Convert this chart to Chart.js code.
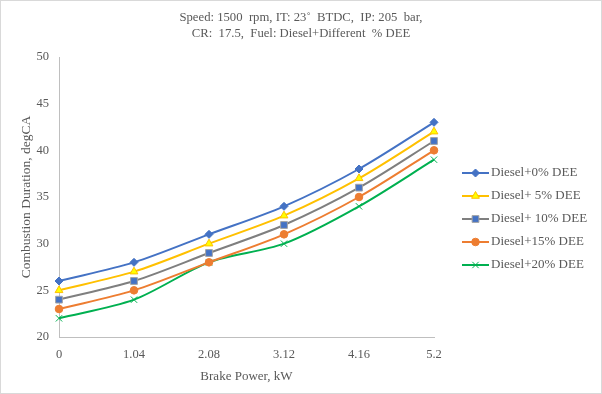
<!DOCTYPE html>
<html>
<head>
<meta charset="utf-8">
<script src="https://cdn.jsdelivr.net/npm/chart.js@4"></script>
<style>
  html, body { margin: 0; padding: 0; background: #fff; }
  #wrap { width: 600px; height: 392px; border: 1px solid #d9d9d9; }
</style>
</head>
<body>
<div id="wrap"><canvas id="chart" width="600" height="392"></canvas></div>
<script>
// data
const loads = ['0', '1.04', '2.08', '3.12', '4.16', '5.2'];
const dee0  = [26, 28, 31, 34, 38, 43];
const dee5  = [25, 27, 30, 33, 37, 42];
const dee10 = [24, 26, 29, 32, 36, 41];
const dee15 = [23, 25, 28, 31, 35, 40];
const dee20 = [22, 24, 28, 30, 34, 39];
const titleLines = ['Speed: 1500  rpm, IT: 23\u02da  BTDC,  IP: 205  bar,', 'CR:  17.5,  Fuel: Diesel+Different  % DEE'];

const FONT = '"Liberation Serif", "Times New Roman", serif';
const TXT = '#595959';

const series = [
  { label: 'Diesel+0% DEE',   data: dee0,  color: '#4472C4', pointStyle: 'rectRot', fill: '#4472C4', border: '#4472C4', r: 4 },
  { label: 'Diesel+ 5% DEE',  data: dee5,  color: '#FFC000', pointStyle: 'triangle', fill: '#FFFF00', border: '#FFC000', r: 4.5 },
  { label: 'Diesel+ 10% DEE', data: dee10, color: '#7F7F7F', pointStyle: 'rect', fill: '#4472C4', border: '#A5A5A5', r: 4.8 },
  { label: 'Diesel+15% DEE',  data: dee15, color: '#ED7D31', pointStyle: 'circle', fill: '#ED7D31', border: '#ED7D31', r: 3.8 },
  { label: 'Diesel+20% DEE',  data: dee20, color: '#00B050', pointStyle: 'crossRot', fill: '#00B050', border: '#00B050', r: 4.5 }
];

// title + legend drawn by hand so the positions match
const extras = {
  id: 'extras',
  afterDraw(c) {
    const ctx = c.ctx;
    ctx.save();
    ctx.fillStyle = TXT;
    ctx.font = '12.7px ' + FONT;
    ctx.textAlign = 'center';
    ctx.textBaseline = 'middle';
    ctx.fillText(titleLines[0], 300, 17);
    ctx.fillText(titleLines[1], 300, 33);

    ctx.textAlign = 'left';
    series.forEach((s, i) => {
      const y = 172 + i * 23;
      ctx.strokeStyle = s.color;
      ctx.lineWidth = 2;
      ctx.beginPath();
      ctx.moveTo(461, y);
      ctx.lineTo(488, y);
      ctx.stroke();
      ctx.fillStyle = s.fill;
      ctx.strokeStyle = s.border;
      ctx.lineWidth = 1;
      Chart.helpers.drawPoint(ctx, { pointStyle: s.pointStyle, radius: s.r, borderWidth: 1 }, 474.5, y);
      ctx.fillStyle = TXT;
      ctx.font = '13px ' + FONT;
      ctx.fillText(s.label, 490, y);
    });
    ctx.restore();
  }
};

new Chart(document.getElementById('chart'), {
  type: 'line',
  data: {
    labels: loads,
    datasets: series.map(s => ({
      label: s.label,
      data: s.data,
      borderColor: s.color,
      borderWidth: 2,
      backgroundColor: s.fill,
      pointBackgroundColor: s.fill,
      pointBorderColor: s.border,
      pointBorderWidth: 1,
      pointStyle: s.pointStyle,
      pointRadius: s.r,
      tension: 0.3,
      fill: false
    }))
  },
  options: {
    responsive: false,
    animation: false,
    layout: { padding: { top: 56, right: 167, left: 0, bottom: 0 } },
    plugins: {
      legend: { display: false },
      title: { display: false },
      tooltip: { enabled: false }
    },
    scales: {
      x: {
        offset: false,
        grid: { display: false, drawTicks: false },
        border: { color: '#bfbfbf', width: 1 },
        ticks: { color: TXT, font: { family: FONT, size: 12.5 }, padding: 10, maxRotation: 0 },
        title: { display: true, text: 'Brake Power, kW', color: TXT, font: { family: FONT, size: 13 }, padding: { top: 0, bottom: 9 } },
        afterFit(s) { s.height = 56; }
      },
      y: {
        min: 20,
        max: 50,
        ticks: { stepSize: 5, color: TXT, font: { family: FONT, size: 12.5 }, padding: 10 },
        grid: { display: false, drawTicks: false },
        border: { color: '#bfbfbf', width: 1 },
        title: { display: true, text: 'Combustion Duration, degCA', color: TXT, font: { family: FONT, size: 13.5 }, padding: { top: 17, bottom: 0 } },
        afterFit(s) { s.width = 58; }
      }
    }
  },
  plugins: [extras]
});
</script>
</body>
</html>
